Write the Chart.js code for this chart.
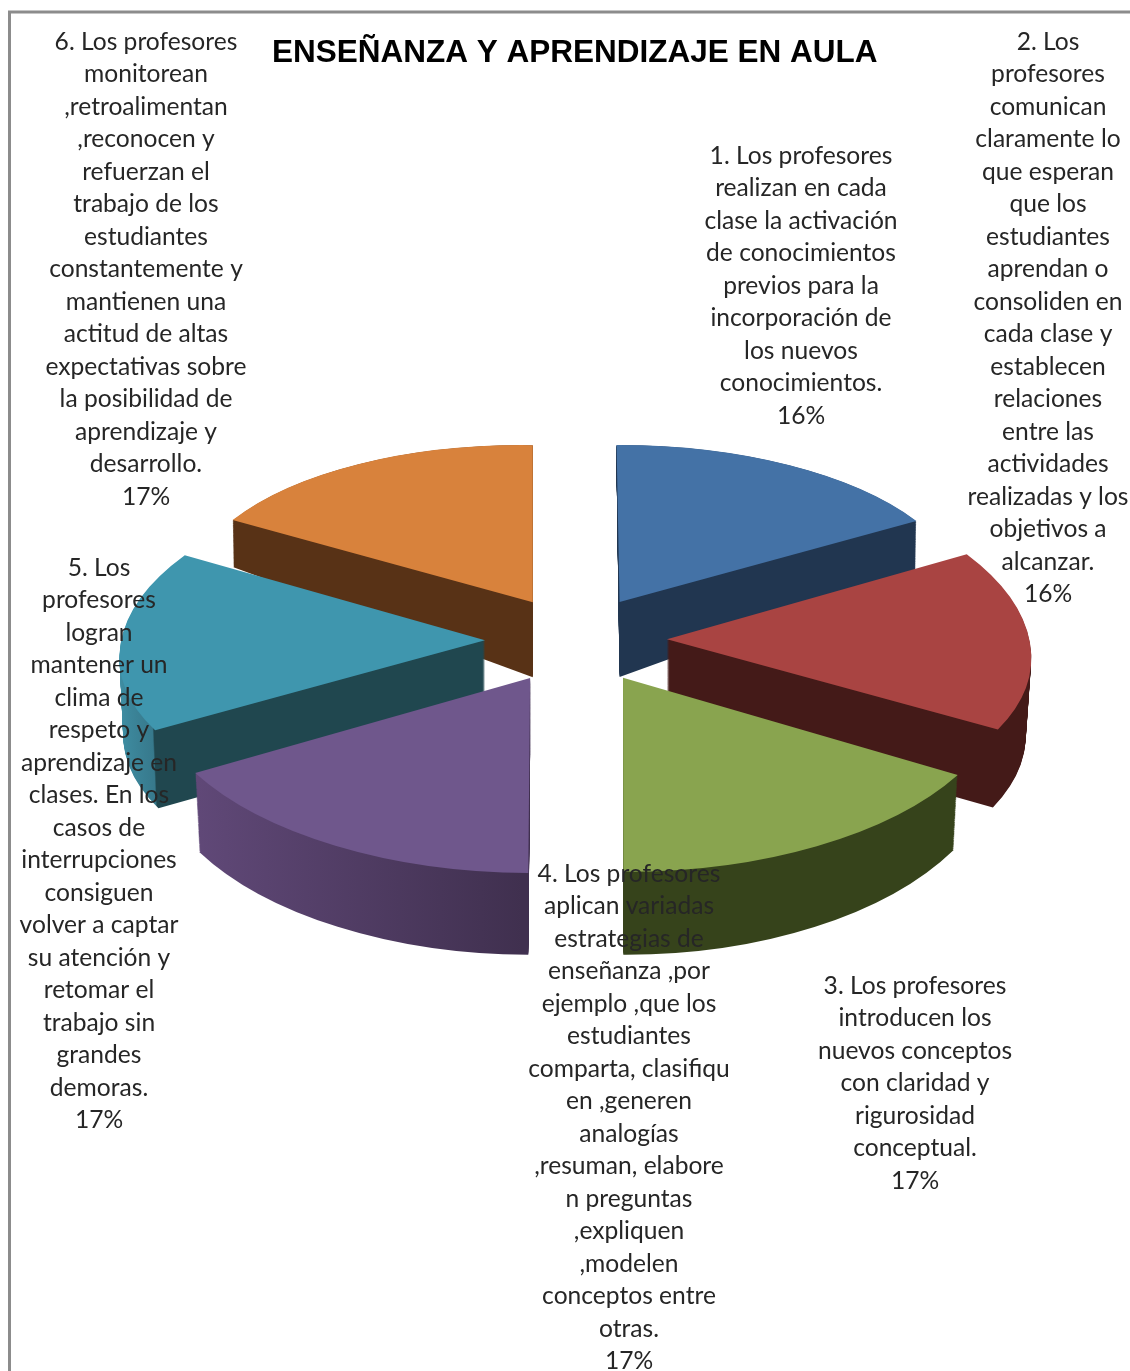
<!DOCTYPE html>
<html lang="es">
<head>
<meta charset="utf-8">
<title>Enseñanza y aprendizaje en aula</title>
<style>html,body{margin:0;padding:0;background:#fff}canvas{display:block}</style>
<script src="https://cdn.jsdelivr.net/npm/chart.js@4"></script>
</head>
<body>
<canvas id="c" width="1130" height="1371"></canvas>
<script>
const chartTitle = "ENSEÑANZA Y APRENDIZAJE EN AULA";
const categories = [
  ["1. Los profesores","realizan en cada","clase la activación","de conocimientos","previos para la","incorporación de","los nuevos","conocimientos."],
  ["2. Los","profesores","comunican","claramente lo","que esperan","que los","estudiantes","aprendan o","consoliden en","cada clase y","establecen","relaciones","entre las","actividades","realizadas y los","objetivos a","alcanzar."],
  ["3. Los profesores","introducen los","nuevos conceptos","con claridad y","rigurosidad","conceptual."],
  ["4. Los profesores","aplican variadas","estrategias de","enseñanza ,por","ejemplo ,que los","estudiantes","comparta, clasifiqu","en ,generen","analogías",",resuman, elabore","n preguntas",",expliquen",",modelen","conceptos entre","otras."],
  ["5. Los","profesores","logran","mantener un","clima de","respeto y","aprendizaje en","clases. En los","casos de","interrupciones","consiguen","volver a captar","su atención y","retomar el","trabajo sin","grandes","demoras."],
  ["6. Los profesores","monitorean",",retroalimentan",",reconocen y","refuerzan el","trabajo de los","estudiantes","constantemente y","mantienen una","actitud de altas","expectativas sobre","la posibilidad de","aprendizaje y","desarrollo."]
];
const shares = [16.49, 16.49, 16.76, 16.76, 16.75, 16.75];

// Appearance only (no data below this line)
const topColors  = ["#4472a6","#a94442","#89a44f","#6f578c","#3f96ae","#d8823c"];
const wallStops  = [
  [[0,"#213650"],[1,"#213650"]],
  [[0,"#441a18"],[1,"#441a18"]],
  [[0,"#36431b"],[1,"#36431b"]],
  [[0,"#654c7e"],[1,"#40304f"]],
  [[0,"#3f8ea3"],[0.13,"#37798c"],[0.135,"#20474f"],[1,"#20474f"]],
  [[0,"#583216"],[1,"#583216"]]
];
const drawOrder = [0,5,1,4,2,3];
// Per-slice view projection: pie plane to screen, one affine matrix per slice
const tilt = {
  centerShift: 1.25,
  explode: [88,91,91,94,91,86],
  explodeFlatten: [0.497,0.48,0.485,0.464,0.48,0.509],
  matrix: [
    [346.7,-1.3,3,157],
    [363.4,5.9,25.4,177],
    [385,4.5,-6,194],
    [384.3,4.9,-8.1,194.9],
    [364.1,-1.5,-32.4,174.3],
    [345.6,4.9,0,157]
  ],
  depth:   [75,76,67,76,76,75],
  depthFlatten: [0.32,0.022,0.082,0.03,0.022,0.34],
  depthNarrow:  [0.003,0.015,0.012,0.012,0.01,0.003]
};
const labelLayout = {
  x: [801,1048,915,629,99,146],
  y: [156,42,986,874,568,42],
  lineHeight: 32.5,
  font: "24.6px Lato",
  color: "#262626"
};

const pie3d = {
  id: "pie3d",
  beforeDraw(chart) {
    const c = chart.ctx;
    c.save();
    c.strokeStyle = "#8c8c8c";
    c.lineWidth = 3;
    c.strokeRect(9.5, 12, 1200, 1500);
    c.restore();
  },
  beforeDatasetsDraw(chart) {
    const c = chart.ctx, arcs = chart.getDatasetMeta(0).data;
    for (const i of drawOrder) {
      const arc = arcs[i];
      const mid = (arc.startAngle + arc.endAngle) / 2;
      const ax = Math.cos(mid) * tilt.explode[i] + tilt.centerShift;
      const ay = Math.sin(mid) * tilt.explode[i] * tilt.explodeFlatten[i];
      const r = arc.outerRadius;
      const m = tilt.matrix[i].map(v => v / r);
      const base = arc.options;
      const paint = (t, fill) => {
        c.save();
        c.translate(arc.x + ax, arc.y + ay + t * tilt.depth[i]);
        c.scale(1 - t * tilt.depthNarrow[i], 1 + t * tilt.depthFlatten[i]);
        c.transform(m[0], m[1], m[2], m[3], 0, 0);
        c.translate(-arc.x, -arc.y);
        arc.options = Object.assign({}, base, {backgroundColor: fill, borderWidth: 0});
        arc.draw(c);
        c.restore();
      };
      const g = c.createLinearGradient(i < 3 ? arc.x : arc.x - r, 0, i < 3 ? arc.x + r : arc.x, 0);
      wallStops[i].forEach(s => g.addColorStop(s[0], s[1]));
      for (let d = tilt.depth[i]; d >= 1; d--) paint(d / tilt.depth[i], g);
      paint(0, topColors[i]);
      arc.options = base;
    }
    return false;
  },
  afterDraw(chart) {
    const c = chart.ctx, total = shares.reduce((a, b) => a + b, 0);
    c.save();
    c.font = labelLayout.font;
    c.fillStyle = labelLayout.color;
    c.textAlign = "center";
    c.textBaseline = "middle";
    categories.forEach((lines, i) => {
      const all = lines.concat(Math.round(shares[i] / total * 100) + "%");
      all.forEach((s, k) => c.fillText(s, labelLayout.x[i], labelLayout.y[i] + k * labelLayout.lineHeight));
    });
    c.restore();
  }
};

new Chart(document.getElementById("c"), {
  type: "pie",
  data: {
    labels: categories.map(l => l.join(" ")),
    datasets: [{ data: shares, backgroundColor: topColors, borderWidth: 0 }]
  },
  options: {
    responsive: false,
    animation: false,
    devicePixelRatio: 1,
    radius: 100,
    layout: { padding: { left: 19.5, right: 0, top: 0, bottom: 162.8 } },
    plugins: {
      legend: { display: false },
      tooltip: { enabled: false },
      title: {
        display: true,
        text: chartTitle,
        color: "#000",
        font: { family: "'Liberation Sans'", weight: "bold", size: 31.5, lineHeight: 1.2 },
        padding: { top: 34, bottom: 0 }
      }
    }
  },
  plugins: [pie3d]
});
</script>
</body>
</html>
